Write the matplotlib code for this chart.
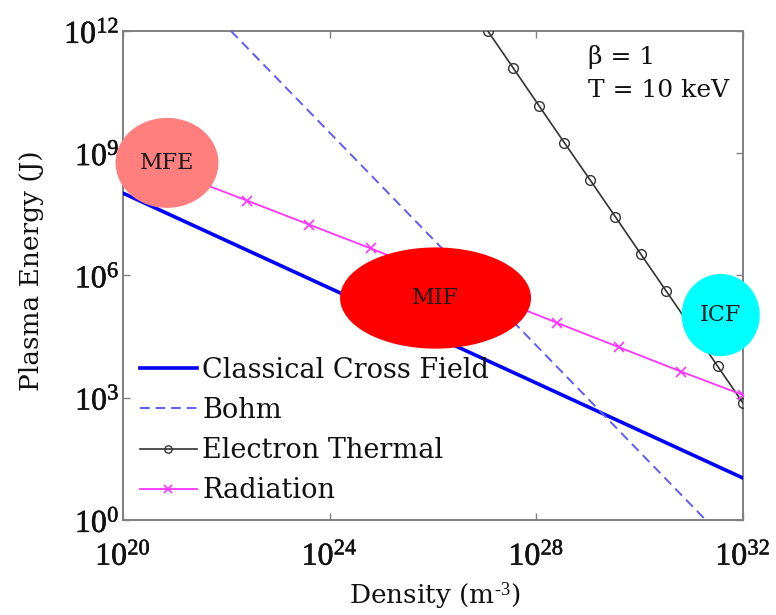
import matplotlib
matplotlib.use("Agg")
import matplotlib.pyplot as plt
import matplotlib.patheffects as pe
from matplotlib.patches import Ellipse
from matplotlib.ticker import FixedLocator, FixedFormatter, NullLocator

plt.rcParams['font.family'] = ['DejaVu Serif']
plt.rcParams['mathtext.fontset'] = 'custom'
plt.rcParams['mathtext.rm'] = 'Liberation Serif'
plt.rcParams['mathtext.it'] = 'Liberation Serif:italic'
plt.rcParams['mathtext.bf'] = 'Liberation Serif:bold'

# ---------------- data ----------------
classical_density = [1e20, 1e32]
classical_energy = [1.05e8, 1.07e1]

bohm_density = [1.23e22, 1.9e31]
bohm_energy = [1e12, 1e0]

electron_density = [1.15e27, 3.58e27, 1.12e28, 3.48e28, 1.09e29, 3.39e29,
                    1.06e30, 3.30e30, 1.03e31, 3.21e31, 1e32]
electron_energy = [1e12, 1.23e11, 1.48e10, 1.82e9, 2.24e8, 2.75e7,
                   3.3e6, 4.07e5, 5.0e4, 6.0e3, 7.4e2]

radiation_density = [1e20, 1.58e21, 2.51e22, 3.98e23, 6.31e24, 1e26,
                     1.58e27, 2.51e28, 3.98e29, 6.31e30, 1e32]
radiation_energy = [1.0e9, 2.63e8, 6.9e7, 1.78e7, 4.6e6, 1.12e6,
                    2.8e5, 6.9e4, 1.74e4, 4.4e3, 1.17e3]

series_labels = ["Classical Cross Field", "Bohm", "Electron Thermal", "Radiation"]

region_names = ["MFE", "MIF", "ICF"]
region_density = [7.1e20, 1.12e26, 3.7e31]
region_energy = [5.8e8, 2.8e5, 1.07e5]
region_colors = ["#FF7F7F", "#FF0000", "#00FFFF"]
region_w = [0.166, 0.308, 0.126]   # axes fraction
region_h = [0.184, 0.207, 0.168]

x_ticks = [1e20, 1e24, 1e28, 1e32]
x_ticklabels = [r"$\mathrm{10^{20}}$", r"$\mathrm{10^{24}}$", r"$\mathrm{10^{28}}$", r"$\mathrm{10^{32}}$"]
y_ticks = [1e0, 1e3, 1e6, 1e9, 1e12]
y_ticklabels = [r"$\mathrm{10^{0}}$", r"$\mathrm{10^{3}}$", r"$\mathrm{10^{6}}$", r"$\mathrm{10^{9}}$", r"$\mathrm{10^{12}}$"]

# ---------------- figure ----------------
fig = plt.figure(figsize=(7.76, 6.15), dpi=100)
ax = fig.add_axes([123/776, 95/615, 620/776, 489/615])
ax.set_xscale('log')
ax.set_yscale('log')
ax.set_xlim(1e20, 1e32)
ax.set_ylim(1e0, 1e12)

ax.plot(classical_density, classical_energy, color='#0000FF', lw=2.6,
        label=series_labels[0], zorder=3)
ax.plot(bohm_density, bohm_energy, color='#5C5CFF', lw=1.4,
        linestyle=(0, (5, 3)), label=series_labels[1], zorder=3)
ax.plot(electron_density, electron_energy, color='#333333', lw=1.2,
        marker='o', ms=7, mfc='none', mec='#333333', mew=1.0,
        label=series_labels[2], zorder=3)
ax.plot(radiation_density, radiation_energy, color='#FF33FF', lw=1.3,
        marker='x', ms=7, mew=1.2, label=series_labels[3], zorder=3)

# regions
for name, xd, yd, c, w, h in zip(region_names, region_density, region_energy,
                                 region_colors, region_w, region_h):
    disp = ax.transData.transform((xd, yd))
    cx, cy = ax.transAxes.inverted().transform(disp)
    e = Ellipse((cx, cy), w, h, transform=ax.transAxes, facecolor=c,
                edgecolor='none', zorder=5, clip_on=False)
    ax.add_patch(e)
    ax.text(cx, cy, name, transform=ax.transAxes, ha='center', va='center',
            fontsize=16, color='#1a1a1a', zorder=6)

ax.text(0.75, 0.947, r"β = 1", transform=ax.transAxes, ha='left', va='center',
        fontsize=18, color='#111111')
ax.text(0.75, 0.879, "T = 10 keV", transform=ax.transAxes, ha='left', va='center',
        fontsize=18, color='#111111')

# ticks
ax.xaxis.set_major_locator(FixedLocator(x_ticks))
ax.xaxis.set_major_formatter(FixedFormatter(x_ticklabels))
ax.yaxis.set_major_locator(FixedLocator(y_ticks))
ax.yaxis.set_major_formatter(FixedFormatter(y_ticklabels))
ax.xaxis.set_minor_locator(NullLocator())
ax.yaxis.set_minor_locator(NullLocator())
ax.tick_params(which='major', direction='in', length=5, width=1, color='#808080',
               top=True, right=True, labelsize=23, labelcolor='#111111')
ax.tick_params(axis='x', pad=15)
ax.tick_params(axis='y', pad=2.5)
for lbl in ax.get_xticklabels() + ax.get_yticklabels():
    lbl.set_path_effects([pe.withStroke(linewidth=0.4, foreground='#111111')])
for s in ax.spines.values():
    s.set_color('#808080')
    s.set_linewidth(1.4)

ax.set_xlabel(r"Density (m$^{\text{-}3}$)", fontsize=19, color='#111111')
ax.set_ylabel("Plasma Energy (J)", fontsize=19, color='#111111')
ax.xaxis.set_label_coords(0.503, -0.123)
ax.yaxis.set_label_coords(-0.127, 0.509)

leg = ax.legend(loc='upper left', bbox_to_anchor=(0.027, 0.334), frameon=False,
                fontsize=19.5, handlelength=2.1, handletextpad=0.2,
                labelspacing=0.49, borderpad=0, borderaxespad=0, markerscale=0.75)
for t in leg.get_texts():
    t.set_color('#111111')

fig.savefig("out.png", dpi=100)
